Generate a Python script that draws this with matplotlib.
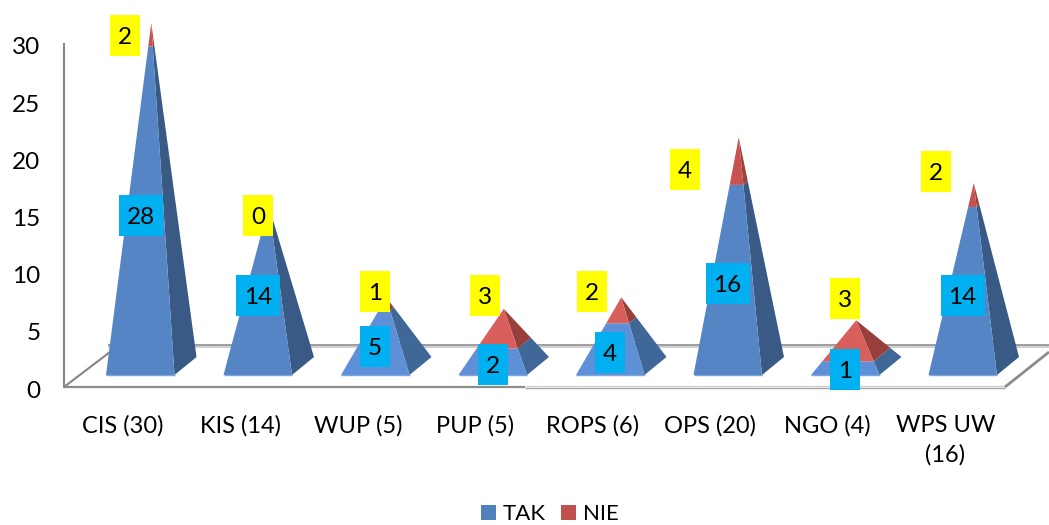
import matplotlib
matplotlib.use('Agg')
import matplotlib.pyplot as plt
from matplotlib.patches import Polygon, Rectangle, Patch
from matplotlib.transforms import ScaledTranslation

plt.rcParams['font.family'] = ['Lato', 'DejaVu Sans']

categories = ['CIS (30)', 'KIS (14)', 'WUP (5)', 'PUP (5)', 'ROPS (6)', 'OPS (20)', 'NGO (4)', 'WPS UW\n(16)']
tak = [28, 14, 5, 2, 4, 16, 1, 14]
nie = [2, 0, 1, 3, 2, 4, 3, 2]

# label box centres in picture pixels
tak_label_pos = [(141, 215.5), (258, 295.5), (375, 346.5), (493, 364.5),
                 (610, 352.5), (727.5, 283.5), (845, 369.5), (962.5, 295.5)]
nie_label_pos = [(125, 35.5), (258, 215.5), (375, 291.5), (485, 295.5),
                 (592, 291.5), (685, 169.5), (845, 298.5), (936, 171.5)]

W, H = 1049, 525
LEFT, BOTTOM, TOP = 64, 387, 44
STEP = 117.5
UNIT = (BOTTOM - TOP) / 30.0
FS = 17.5

def dx(px):
    return (px - LEFT) / STEP - 0.5

def dy(py):
    return (BOTTOM - py) / UNIT

fig = plt.figure(figsize=(W / 100, H / 100), dpi=100)
ax = fig.add_axes([LEFT / W, (H - BOTTOM) / H, 8 * STEP / W, (BOTTOM - TOP) / H])
ax.set_xlim(-0.5, 7.5)
ax.set_ylim(0, 30)
ax.patch.set_visible(False)

for s in ['top', 'right', 'bottom']:
    ax.spines[s].set_visible(False)
ax.spines['left'].set_color('#868686')
ax.spines['left'].set_linewidth(1.5)

# floor of the 3d box
floor = dict(clip_on=False, solid_capstyle='butt', zorder=1)
ax.plot([dx(64), dx(525)], [0, 0], color='#8c8c8c', lw=1.6, **floor)
ax.plot([dx(525), dx(1005)], [dy(386), dy(386)], color='#d0d0d0', lw=1.0, **floor)
ax.plot([dx(525), dx(1005)], [dy(387.5), dy(387.5)], color='#a6a6a6', lw=1.0, **floor)
ax.plot([dx(64), dx(110)], [0, dy(352)], color='#868686', lw=1.5, **floor)
ax.plot([dx(1005), dx(1049)], [dy(387), dy(352)], color='#8c8c8c', lw=2, **floor)
ax.plot([dx(108), dx(1049)], [dy(344.5), dy(344.5)], color='#8c8c8c', lw=1.2, **floor)
ax.plot([dx(108), dx(1049)], [dy(346.5), dy(346.5)], color='#c8c8c8', lw=1.2, **floor)

# pyramid base, relative to the category tick
base_left = (106 - 122.75) / STEP
base_w = 68.5 / STEP
depth_x = 22.0 / STEP
front_y = dy(375)
depth_y = 18.0 / UNIT


def corner(i, total, px_, py_, h):
    # point on the edge from base corner towards the apex, at value h
    cx = i + base_left + (base_w + depth_x) / 2
    cy = front_y + depth_y / 2
    k = 1 - h / total
    return (cx + (px_ - cx) * k, cy + (py_ - cy) * k + h)


def segment(i, total, h0, h1, front_c, side_c):
    x0 = i + base_left
    x1 = x0 + base_w
    x2 = x1 + depth_x
    y0 = front_y
    y2 = front_y + depth_y
    front = [corner(i, total, x0, y0, h0), corner(i, total, x1, y0, h0),
             corner(i, total, x1, y0, h1), corner(i, total, x0, y0, h1)]
    side = [corner(i, total, x1, y0, h0), corner(i, total, x2, y2, h0),
            corner(i, total, x2, y2, h1), corner(i, total, x1, y0, h1)]
    ax.add_patch(Polygon(side, closed=True, fc=side_c, ec='none', zorder=3, clip_on=False))
    ax.add_patch(Polygon(front, closed=True, fc=front_c, ec='none', zorder=3, clip_on=False))


for i in range(len(categories)):
    total = tak[i] + nie[i]
    if total > 6:
        cols = ('#5585c5', '#385a85', '#c8524f', '#9a403d')
    else:
        cols = ('#5e90d8', '#3f6797', '#d95f5c', '#983f3c')
    segment(i, total, 0, tak[i], cols[0], cols[1])
    if nie[i] > 0:
        segment(i, total, tak[i], total, cols[2], cols[3])
    ax.plot([i + base_left, i + base_left + base_w], [front_y, front_y], color='#7fa6dc',
            lw=1, zorder=3, solid_capstyle='butt')


def value_label(val, pos, color):
    w = 44 if val >= 10 else 30
    px_, py_ = pos
    ax.add_patch(Rectangle((dx(px_ - w / 2), dy(py_ + 20.5)), w / STEP, 41 / UNIT,
                           fc=color, ec='none', zorder=5, clip_on=False))
    ax.text(dx(px_), dy(py_ + 2), str(val), ha='center', va='center', fontsize=FS,
            color='black', zorder=6, clip_on=False)


for i in range(len(categories)):
    value_label(tak[i], tak_label_pos[i], '#00b0f0')
    value_label(nie[i], nie_label_pos[i], '#ffff00')

ax.set_xticks(range(len(categories)))
ax.set_xticklabels(categories, fontsize=17, linespacing=1.5)
ax.set_yticks(range(0, 31, 5))
ax.tick_params(axis='y', length=0, pad=17, labelsize=FS)
ax.tick_params(axis='x', length=0, pad=20)
for lab in ax.get_yticklabels():
    lab.set_transform(lab.get_transform() + ScaledTranslation(0, -2 / 100, fig.dpi_scale_trans))

handles = [Patch(fc='#4f81bd', ec='none', label='TAK'), Patch(fc='#c0504d', ec='none', label='NIE')]
fig.legend(handles=handles, loc='lower left', bbox_to_anchor=(481 / W, 0.5 / H), ncol=2, frameon=False,
           fontsize=16, handlelength=0.67, handleheight=0.67, handletextpad=0.3,
           columnspacing=0.7, borderpad=0, borderaxespad=0)

fig.savefig('out.png', dpi=100)
